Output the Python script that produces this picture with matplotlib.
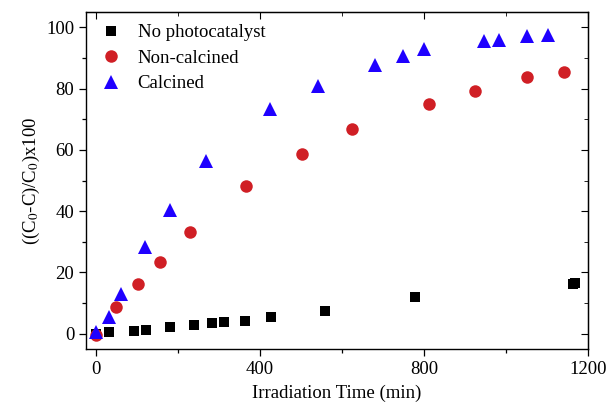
import matplotlib
matplotlib.use("Agg")
import matplotlib.pyplot as plt
from matplotlib.ticker import MultipleLocator

# irradiation time (min) and degradation (%)
t_none = [0, 30, 93, 121, 179, 239, 282, 311, 363, 427, 558, 778, 1163, 1168]
y_none = [0.0, 0.4, 1.0, 1.3, 2.1, 2.9, 3.4, 3.8, 4.2, 5.6, 7.5, 12.0, 16.2, 16.6]

t_noncalc = [0, 49, 103, 155, 229, 365, 503, 624, 811, 924, 1050, 1142]
y_noncalc = [-0.3, 8.6, 16.1, 23.5, 33.1, 48.3, 58.5, 66.9, 75.1, 79.3, 83.7, 85.5]

t_calc = [0, 30, 60, 120, 179, 268, 424, 540, 680, 749, 800, 945, 982, 1050, 1102]
y_calc = [0.4, 5.3, 13.0, 28.2, 40.4, 56.5, 73.4, 80.7, 87.6, 90.8, 92.9, 95.5, 96.0, 97.1, 97.5]

plt.rcParams["font.family"] = ["Liberation Serif", "DejaVu Serif"]
plt.rcParams["mathtext.fontset"] = "stix"

fig = plt.figure(figsize=(6.06, 4.05), dpi=100)
ax = fig.add_axes([86 / 606, 1 - 349 / 405, (588 - 86) / 606, (349 - 12) / 405])

ax.plot(t_none, y_none, "s", color="black", ms=7.5, mew=0, label="No photocatalyst")
ax.plot(t_noncalc, y_noncalc, "o", color="#d01f25", ms=9, mew=0, label="Non-calcined")
ax.plot(t_calc, y_calc, "^", color="#1f00ff", ms=10, mew=0, label="Calcined")

ax.set_xlim(-25, 1200)
ax.set_ylim(-5, 105)
ax.xaxis.set_major_locator(MultipleLocator(400))
ax.xaxis.set_minor_locator(MultipleLocator(200))
ax.yaxis.set_major_locator(MultipleLocator(20))
ax.yaxis.set_minor_locator(MultipleLocator(10))
ax.tick_params(which="both", direction="out", labelsize=13.5, width=0.9,
               top=False, right=False)
ax.tick_params(which="major", length=5)
ax.tick_params(which="minor", length=3)
for spine in ax.spines.values():
    spine.set_linewidth(1.0)

# inward ticks on top and right
sec_x = ax.secondary_xaxis("top")
sec_x.xaxis.set_major_locator(MultipleLocator(400))
sec_x.xaxis.set_minor_locator(MultipleLocator(200))
sec_x.tick_params(which="both", direction="in", labeltop=False)
sec_x.tick_params(which="major", length=5)
sec_x.tick_params(which="minor", length=3)
sec_y = ax.secondary_yaxis("right")
sec_y.yaxis.set_major_locator(MultipleLocator(20))
sec_y.yaxis.set_minor_locator(MultipleLocator(10))
sec_y.tick_params(which="both", direction="in", labelright=False)
sec_y.tick_params(which="major", length=5)
sec_y.tick_params(which="minor", length=3)

ax.set_xlabel("Irradiation Time (min)", fontsize=13.5, labelpad=5)
ax.set_ylabel(r"((C$_0$-C)/C$_0$)x100", fontsize=13.5, labelpad=3)

ax.legend(loc="upper left", frameon=False, fontsize=13.5, handletextpad=0.7,
          borderaxespad=0.25, labelspacing=0.45, handlelength=1.4)

fig.savefig("out.png", dpi=100)
